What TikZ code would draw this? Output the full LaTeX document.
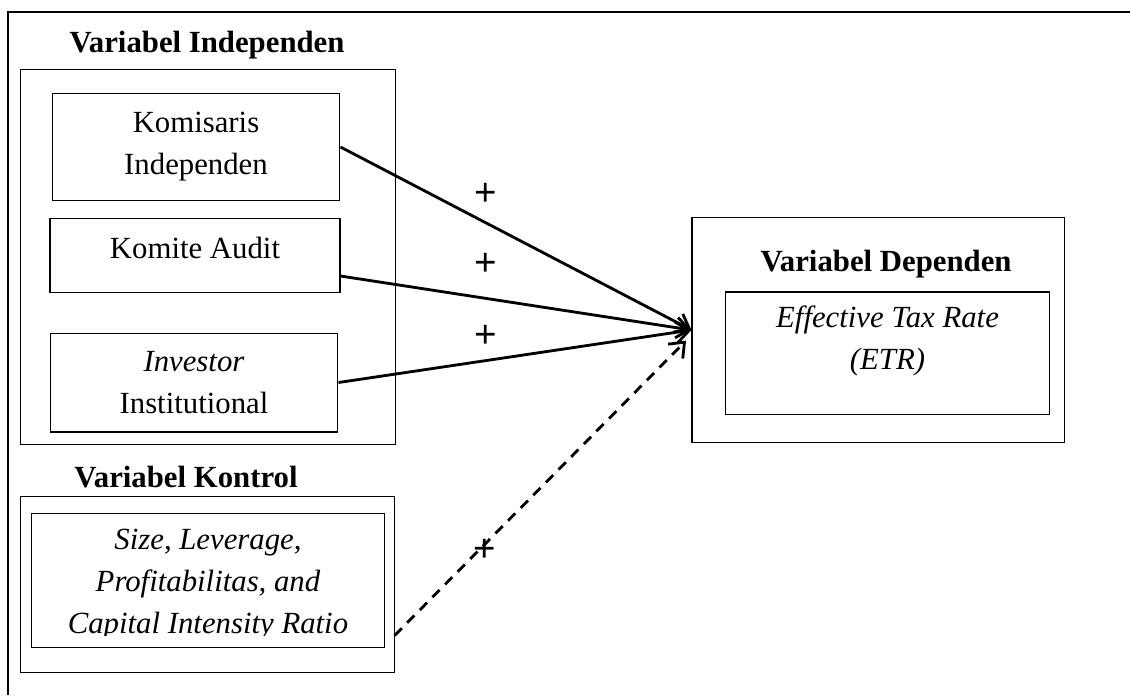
\documentclass[tikz,border=0pt]{standalone}
\usepackage{fontspec}
\setmainfont{Liberation Serif}
\setsansfont{Liberation Sans}
\usetikzlibrary{arrows.meta, positioning}

\begin{document}
\begin{tikzpicture}[x=0.39pt, y=-0.39pt, >={Straight Barb[length=5pt,width=8pt]},
  every node/.style={font=\fontsize{12pt}{16.4pt}\selectfont},
  varbox/.style={draw, line width=0.4pt, inner sep=0pt, align=center},
  judul/.style={font=\fontsize{12pt}{16.4pt}\selectfont\bfseries},
  tanda/.style={font=\fontsize{15pt}{16pt}\selectfont\sffamily},
  panah/.style={->, line width=1.1pt}]
  \useasboundingbox (0,0) rectangle (1130,695);
  \draw[line width=0.8pt] (1130,12) -- (8,12) -- (8,695);

  % variabel independen
  \node[judul] (jIndep) at (207,45) {Variabel Independen};
  \node[varbox, minimum width=145.9pt, minimum height=145.9pt] (indep) at (208,257) {};
  \node[varbox, minimum width=112.3pt, minimum height=42.1pt] (komisaris) at (196,147) {Komisaris\\Independen};
  \node[varbox, minimum width=113.1pt, minimum height=28.5pt, text depth=5.9pt] (komite) at (195,255.5) {Komite Audit};
  \node[varbox, minimum width=112.3pt, minimum height=38.6pt] (investor) at (194,382.5) {\textit{Investor}\\Institutional};

  % variabel kontrol
  \node[judul] (jKontrol) at (186,477) {Variabel Kontrol};
  \node[varbox, minimum width=145.5pt, minimum height=69pt] (kontrol) at (207.5,584.5) {};
  \node[varbox, minimum width=138pt, minimum height=51.9pt] (kontrolIsi) at (208,580.5) {};
  \begin{scope}
    \clip (31,514) rectangle (385,635);
    \node[align=center] (kontrolTeks) at (208,585) {\textit{Size, Leverage,}\\\textit{Profitabilitas, and}\\\textit{Capital Intensity Ratio}};
  \end{scope}

  % variabel dependen
  \node[varbox, minimum width=145.1pt, minimum height=88.1pt] (dep) at (878,330) {};
  \node[judul] (jDep) at (886,264) {Variabel Dependen};
  \node[varbox, minimum width=126pt, minimum height=47.6pt, text depth=12pt] (etr) at (887.5,353) {\textit{Effective Tax Rate}\\\textit{(ETR)}};

  % panah
  \draw[panah] (komisaris.east) -- (dep.west);
  \draw[panah] ([yshift=-8pt]komite.east) -- (dep.west);
  \draw[panah] (investor.east) -- (dep.west);
  \draw[panah, dash pattern=on 4pt off 3pt, shorten >=3pt] ([yshift=14.8pt]kontrol.south east) -- ([yshift=-2pt]dep.west);

  \node[tanda] (t1) at (486,194) {+};
  \node[tanda] (t2) at (486,264) {+};
  \node[tanda] (t3) at (486,336) {+};
  \node[tanda] (t4) at (485,550) {+};
\end{tikzpicture}
\end{document}
